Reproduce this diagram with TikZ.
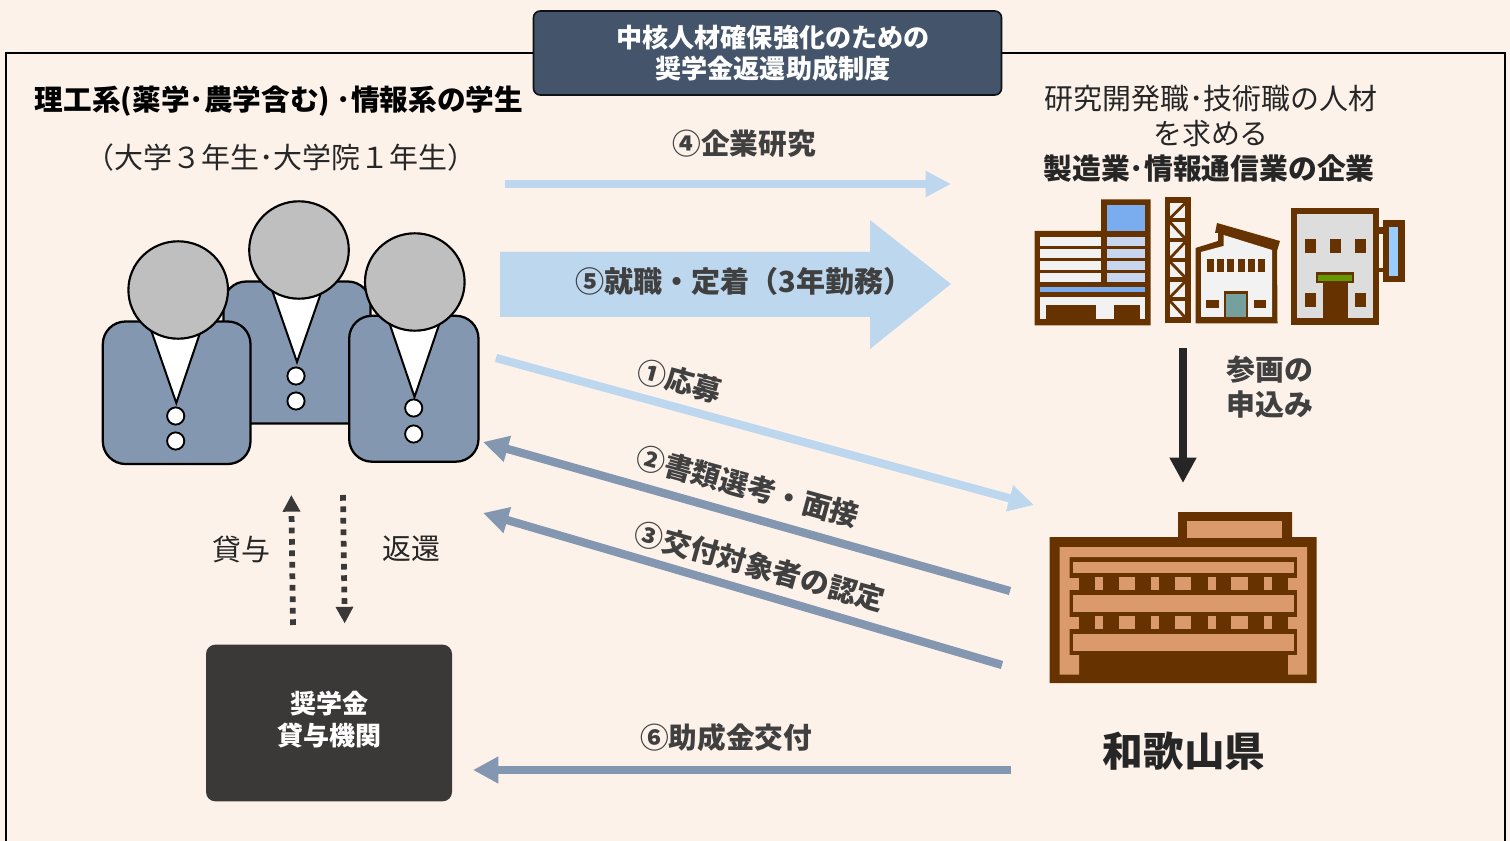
\documentclass[tikz,border=0pt]{standalone}
\usepackage{fontspec}
\setmainfont{Noto Sans CJK JP}
\usetikzlibrary{arrows.meta}
\definecolor{bgc}{HTML}{FDF2EA}
\definecolor{navy}{HTML}{44546A}
\definecolor{lblue}{HTML}{BDD7EE}
\definecolor{sblue}{HTML}{8497B0}
\definecolor{brn}{HTML}{663300}
\definecolor{tan}{HTML}{DA9A6B}
\definecolor{dark}{HTML}{3B3838}
\definecolor{txt}{HTML}{404040}
\definecolor{txd}{HTML}{262626}
\definecolor{sky}{HTML}{7AADEF}
\definecolor{pale}{HTML}{C7D6EE}
\definecolor{offw}{HTML}{F2F2F2}
\definecolor{silv}{HTML}{DDDDDD}
\definecolor{teal2}{HTML}{76A09E}
\definecolor{grn}{HTML}{669900}
\definecolor{cyan2}{HTML}{99CCFF}
\definecolor{headg}{HTML}{BFBFBF}
\newcommand{\fs}[1]{\fontsize{#1}{#1}\selectfont}
\tikzset{
 x=0.75pt,y=-0.75pt,
 every node/.style={inner sep=0pt,outer sep=0pt,align=center},
 lbl/.style={font=\fs{21.7},text=txd},
 blbl/.style={font=\fs{21.5}\bfseries,text=txt},
 body/.style={draw=black,line width=1.7pt,fill=sblue,rounded corners=17pt},
 head/.style={draw=black,line width=1.6pt,fill=headg},
 vee/.style={draw=black,line width=1.5pt,fill=white,line join=miter},
 btn/.style={draw=black,line width=1.4pt,fill=white},
 lightarrow/.style={draw=lblue,line width=6.2pt,-{Triangle[length=19pt,width=19pt]}},
 bluearrow/.style={draw=sblue,line width=6.2pt,-{Triangle[length=19pt,width=19pt]}},
 dasharrow/.style={draw=dark,line width=4.3pt,dash pattern=on 4.3pt off 4.3pt,-{Triangle[length=12.5pt,width=12.5pt,sep=0pt]}},
}
\begin{document}
\begin{tikzpicture}
\useasboundingbox (0,0) rectangle (1510,841);
\fill[bgc] (0,0) rectangle (1510,841);
% frame
\draw[black,line width=2.2pt] (6,860) -- (6,53) -- (1505,53) -- (1505,860);
% title
\node[draw=black!80!navy,line width=1.2pt,fill=navy,rounded corners=5pt,minimum width=351pt,minimum height=63pt] (title) at (767.5,53) {};
\node[text=white,font=\fs{19.6}\bfseries] (titlet) at (773,53) {中核人材確保強化のための\\[3.5pt]奨学金返還助成制度};
% headings
\node[font=\fs{21.5}\bfseries,text=black] (stu) at (279,101) {理工系(薬学･農学含む) ･情報系の学生};
\node[lbl] (stu2) at (281,158) {（大学３年生･大学院１年生）};
\node[lbl] (co1) at (1211,99) {研究開発職･技術職の人材};
\node[lbl] (co2) at (1211,134) {を求める};
\node[font=\fs{21.6}\bfseries,text=txd] (co3) at (1209,169) {製造業･情報通信業の企業};
% people: back
\draw[body] (223.5,281.5) rectangle (370.5,423.5);
\draw[vee] (272,290) -- (297,362) -- (322,290) -- cycle;
\draw[head] (299,250) ellipse (49.8 and 48.7);
\draw[btn] (296,376) circle (8.6);
\draw[btn] (296,401) circle (8.6);
% left
\draw[body] (102.8,321.5) rectangle (250.5,464);
\draw[vee] (151,330) -- (176.3,403) -- (201,330) -- cycle;
\draw[head] (178.2,290) ellipse (49.8 and 48.7);
\draw[btn] (175.7,416) circle (8.6);
\draw[btn] (175.7,441) circle (8.6);
% right
\draw[body] (349.2,315.8) rectangle (478.5,461.7);
\draw[vee] (389,322) -- (414.5,397) -- (440,322) -- cycle;
\draw[head] (414.8,282) ellipse (49.8 and 48.7);
\draw[btn] (413.7,408) circle (8.6);
\draw[btn] (413.7,434) circle (8.6);
% office building 1
\begin{scope}[shift={(1020,190)}]
\fill[brn] (14.5,41) -- (81,41) -- (81,9.5) -- (130.5,9.5) -- (130.5,135.5) -- (14.5,135.5) -- cycle;
\fill[sky] (87,15) rectangle (125,41);
\fill[offw] (20,47) rectangle (81,56);
\fill[offw] (20,59) rectangle (81,68);
\fill[offw] (20,71) rectangle (81,80);
\fill[offw] (20,83) rectangle (81,92);
\fill[pale] (87,47) rectangle (125,56);
\fill[pale] (87,59) rectangle (125,68);
\fill[pale] (87,71) rectangle (125,80);
\fill[pale] (87,83) rectangle (125,92);
\fill[sky] (20,97) rectangle (125,102);
\fill[offw] (20,107.5) rectangle (125,129.5);
\fill[brn] (26,115) rectangle (76,130);
\fill[brn] (94,115) rectangle (120,130);
% tower
\fill[brn] (144.5,7) rectangle (170.5,133);
\foreach \a/\b in {13.3/28.3,32.3/48.3,52.3/68.3,71.7/87.3,91.7/107.3,111/127.3}{\fill[offw] (150,\a) rectangle (165,\b);}
\foreach \a/\b in {13.3/28.3,52.3/68.3,91.7/107.3}{\draw[brn,line width=2.1pt] (150,\b) -- (165,\a);}
\foreach \a/\b in {32.3/48.3,71.7/87.3,111/127.3}{\draw[brn,line width=2.1pt] (150,\a) -- (165,\b);}
% factory
\fill[brn] (175.5,58) -- (198,51) -- (198,43) -- (195,43) -- (197,33) -- (260,51) -- (257,61) -- (257.5,133.5) -- (175.5,133.5) -- cycle;
\fill[offw] (181,62) -- (203.5,56) -- (203.5,45) -- (252,60) -- (252,127) -- (181,127) -- cycle;
\foreach \a in {186.7,197,207.3,217.6,228,238.2}{\fill[brn] (\a,69.5) rectangle (\a+7,82);}
\fill[brn] (204,101) rectangle (228,128);
\fill[teal2] (206,104) rectangle (226,127);
\fill[brn] (186,110) rectangle (198.5,118);
\fill[brn] (233.5,110) rectangle (246,118);
\end{scope}
% office 3
\fill[brn] (1291,208) rectangle (1379,325);
\fill[silv] (1297,214) rectangle (1373,318);
\foreach \x in {1305,1330,1355}{\fill[brn] (\x,239) rectangle (\x+11,253);}
\fill[brn] (1305,293) rectangle (1316,307);
\fill[brn] (1355,293) rectangle (1366,307);
\fill[brn] (1316,272) rectangle (1354,283);
\fill[grn] (1318,275) rectangle (1352,281);
\fill[brn] (1323,283) rectangle (1348,320);
\fill[brn] (1379,227) rectangle (1385,234);
\fill[brn] (1379,268) rectangle (1385,272);
\fill[brn] (1383,220) rectangle (1405,282);
\fill[cyan2] (1389,227) rectangle (1398,276);
% prefecture building
\begin{scope}[shift={(1030,500)}]
\fill[brn] (19.5,37) -- (148,37) -- (148,12) -- (262,12) -- (262,37) -- (286.5,37) -- (286.5,183) -- (19.5,183) -- cycle;
\fill[tan] (157,21) rectangle (252,38);
\fill[tan] (29.5,47) -- (277,47) -- (277,174.5) -- (258,174.5) -- (258,155) -- (267,155) -- (267,57) -- (39.5,57) -- (39.5,155) -- (49,155) -- (49,174.5) -- (29.5,174.5) -- cycle;
\fill[tan] (39,78) rectangle (49,90);
\fill[tan] (258,78) rectangle (267,90);
\fill[tan] (39,117) rectangle (49,129);
\fill[tan] (258,117) rectangle (267,129);
\foreach \y/\h in {62/11,95/17,134/17}{\fill[tan] (43,\y) rectangle (264,\y+\h);}
\foreach \y in {77,116}{
 \foreach \a/\b in {64.5/72.5,89/105,121/129,145/161,178/186,201/218,234/242}{\fill[tan] (\a,\y) rectangle (\b,\y+13);}
}
\end{scope}
% labels
\node[font=\fs{30.5}\bfseries,text=txd] (pref) at (1184,751) {和歌山県};
\node[font=\fs{21.7}\bfseries,text=txt,align=left] (apply) at (1270,387) {参画の\\[4pt]申込み};
\node[lbl] (lend) at (241,549) {貸与};
\node[lbl] (repay) at (411,549) {返還};
% scholarship box
\node[fill=dark,rounded corners=7pt,minimum width=184.5pt,minimum height=117.5pt] (org) at (329,723) {};
\node[text=white,font=\fs{19.5}\bfseries] (orgt) at (329,719.5) {奨学金\\[4pt]貸与機関};
% arrows
\coordinate (a4s) at (505,184); \coordinate (a4e) at (951,184);
\draw[draw=lblue,line width=6.2pt,-{Triangle[length=19pt,width=18.5pt]}] (a4s) -- (a4e);
\node[blbl] (l4) at (744,144) {④企業研究};
% big arrow
\fill[lblue] (500,252) -- (870,252) -- (870,220) -- (951,284) -- (870,349) -- (870,317) -- (500,317) -- cycle;
\node[font=\fs{21.8}\bfseries,text=txt] (l5) at (744,281) {⑤就職・定着（3年勤務）};
% diagonal
\coordinate (a1s) at (496,358); \coordinate (a1e) at (1034,505);
\draw[lightarrow] (a1s) -- (a1e);
\node[blbl,rotate=-15.3] (l1) at (680,381) {①応募};
\coordinate (a2s) at (1010,591); \coordinate (a2e) at (483,442);
\draw[bluearrow] (a2s) -- (a2e);
\node[blbl,rotate=-15.5] (l2) at (748,486.5) {②書類選考・面接};
\coordinate (a3s) at (1002,665); \coordinate (a3e) at (483,513);
\draw[bluearrow] (a3s) -- (a3e);
\node[blbl,rotate=-15.5] (l3) at (760,566.5) {③交付対象者の認定};
\coordinate (a6s) at (1011,770); \coordinate (a6e) at (473,770);
\draw[bluearrow] (a6s) -- (a6e);
\node[blbl] (l6) at (726,738) {⑥助成金交付};
% down arrow
\coordinate (bs) at (1183,348); \coordinate (be) at (1183,483);
\draw[draw=black!85,line width=6.2pt,-{Triangle[length=19pt,width=19pt]}] (bs) -- (be);
% dashed
\coordinate (ds) at (293,625); \coordinate (de) at (291.3,495);
\draw[dasharrow] (ds) -- (de);
\coordinate (rs) at (343,495); \coordinate (re) at (344.7,623.5);
\draw[dasharrow] (rs) -- (re);
\end{tikzpicture}
\end{document}
